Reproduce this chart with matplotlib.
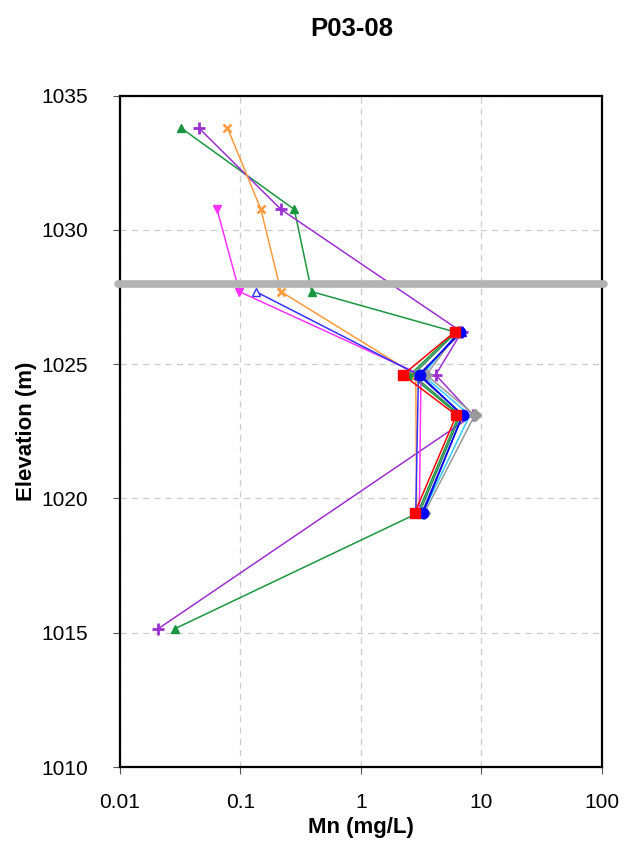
import matplotlib
matplotlib.use('Agg')
from matplotlib import pyplot as plt
from matplotlib.ticker import FixedLocator, NullLocator, FixedFormatter

plt.rcParams['font.family'] = ['Liberation Sans', 'DejaVu Sans']

# elevations (m) and Mn (mg/L) for each sampling series
green_elev = [1033.8, 1030.76, 1027.7, 1026.2, 1024.6, 1023.1, 1019.45, 1015.15]
green_mn = [0.032, 0.28, 0.39, 6.0, 2.55, 6.5, 2.95, 0.0286]

purple_elev = [1033.8, 1030.76, 1026.2, 1024.6, 1023.1, 1015.15]
purple_mn = [0.045, 0.217, 6.85, 4.17, 8.5, 0.0208]

orange_elev = [1033.8, 1030.76, 1027.7, 1024.6, 1019.45]
orange_mn = [0.078, 0.148, 0.217, 2.85, 2.9]

magenta_elev = [1030.76, 1027.7, 1024.6, 1019.45]
magenta_mn = [0.064, 0.098, 3.15, 3.05]

bluetri_elev = [1027.7, 1024.6, 1019.45]
bluetri_mn = [0.134, 3.0, 2.85]

red_elev = [1026.2, 1024.6, 1023.1, 1019.45]
red_mn = [6.0, 2.23, 6.2, 2.79]

teal_elev = [1026.2, 1024.6, 1023.1, 1019.45]
teal_mn = [6.2, 2.7, 6.7, 3.05]

navy_elev = [1026.2, 1024.6, 1023.1, 1019.45]
navy_mn = [6.9, 3.0, 7.0, 3.2]

cyan_elev = [1026.2, 1024.6, 1023.1, 1019.45]
cyan_mn = [6.5, 3.25, 8.0, 3.25]

gray_elev = [1026.2, 1024.6, 1023.1, 1019.45]
gray_mn = [6.4, 3.48, 8.8, 3.35]

blue_elev = [1026.2, 1024.6, 1023.1, 1019.45]
blue_mn = [6.6, 3.1, 6.97, 3.27]

water_level = 1028.0

x_ticks = [0.01, 0.1, 1, 10, 100]
x_labels = ['0.01', '0.1', '1', '10', '100']
y_ticks = [1010, 1015, 1020, 1025, 1030, 1035]


def main():
    fig = plt.figure(figsize=(6.31, 8.5), dpi=100)
    ax = fig.add_axes([0.19, 0.0976, 0.764, 0.79])

    ax.plot(green_mn, green_elev, '-', color='#1a9641', lw=1.1, marker='^', ms=6, zorder=3)
    ax.plot(purple_mn, purple_elev, '-', color='#9b30d0', lw=1.1, marker='+', ms=8, mew=2, zorder=3)
    ax.plot(orange_mn, orange_elev, '-', color='#ff9a3c', lw=1.1, marker='x', ms=6, mew=1.8, zorder=3)
    ax.plot(magenta_mn, magenta_elev, '-', color='#ff33ff', lw=1.1, marker='v', ms=6, zorder=3)
    ax.plot(bluetri_mn, bluetri_elev, '-', color='#3333ff', lw=1.1, marker='^', ms=6,
            mfc='white', mec='#3333ff', zorder=3)
    ax.plot(teal_mn, teal_elev, '-', color='#2e8b57', lw=1.1, zorder=3)
    ax.plot(cyan_mn, cyan_elev, '-', color='#33ccff', lw=1.1, zorder=3)
    ax.plot(gray_mn, gray_elev, '-', color='#999999', lw=1.1, marker='D', ms=6, zorder=3)
    ax.plot(navy_mn, navy_elev, '-', color='#1f1fbf', lw=1.1, marker='^', ms=6, zorder=3)
    ax.plot(blue_mn, blue_elev, '-', color='#0000ff', lw=1.1, marker='o', ms=7.5, zorder=4)
    ax.plot(red_mn, red_elev, '-', color='#ff0000', lw=1.1, marker='s', ms=7.5, zorder=5)

    # water level line
    ax.plot([-0.004, 1.004], [water_level, water_level], color='#b3b3b3', lw=5.5,
            solid_capstyle='round', transform=ax.get_yaxis_transform(), clip_on=False, zorder=6)

    ax.set_xscale('log')
    ax.set_xlim(0.01, 100)
    ax.set_ylim(1010, 1035)
    ax.xaxis.set_major_locator(FixedLocator(x_ticks))
    ax.xaxis.set_major_formatter(FixedFormatter(x_labels))
    ax.xaxis.set_minor_locator(NullLocator())
    ax.set_yticks(y_ticks)

    ax.grid(True, which='major', color='#cccccc', ls=(0, (5, 4)), lw=0.9)
    ax.set_axisbelow(True)
    for s in ax.spines.values():
        s.set_linewidth(1.6)
        s.set_color('black')
    ax.tick_params(direction='out', length=5, width=0.8, color='#555555',
                   labelsize=15)
    ax.tick_params(axis='x', pad=14)
    ax.tick_params(axis='y', pad=18)

    ax.set_xlabel('Mn (mg/L)', fontsize=16, fontweight='bold', labelpad=3)
    ax.set_ylabel('Elevation (m)', fontsize=16, fontweight='bold', labelpad=3)
    fig.text(0.558, 0.966, 'P03-08', ha='center', va='center', fontsize=18.5, fontweight='bold')

    fig.savefig('out.png', dpi=100)


if __name__ == "__main__":
    main()
